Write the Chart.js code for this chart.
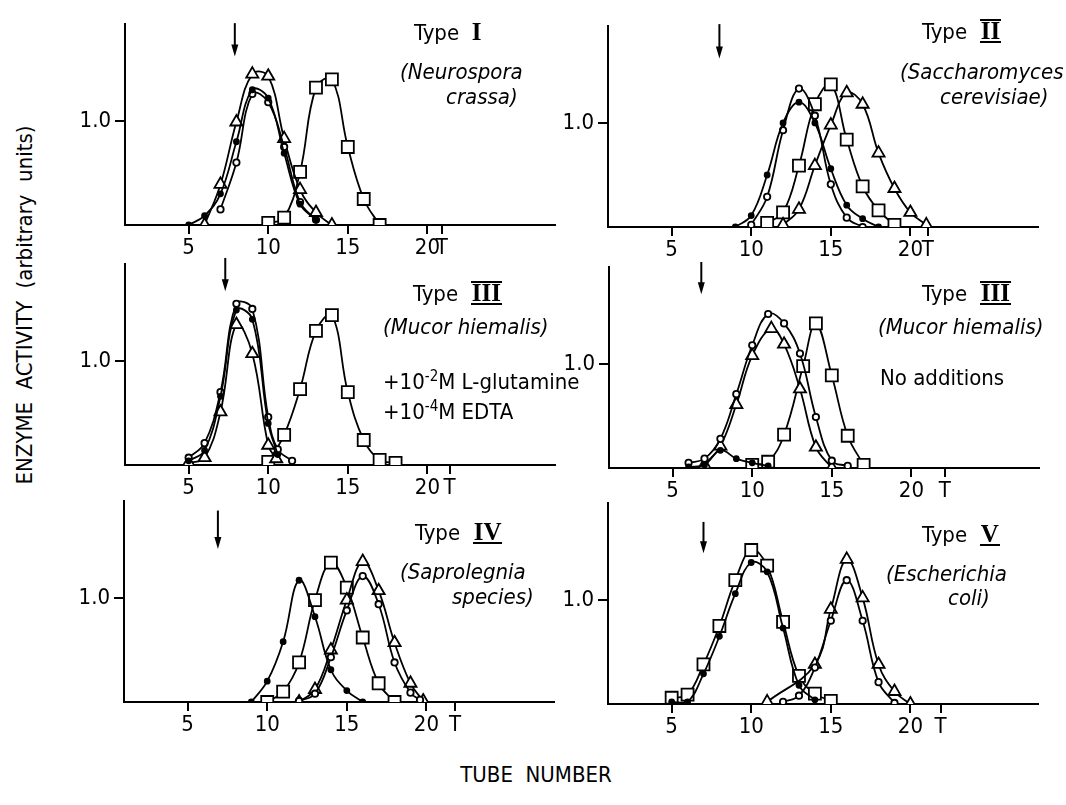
<!DOCTYPE html>
<html>
<head>
<meta charset="utf-8">
<script src="https://cdn.jsdelivr.net/npm/chart.js@4.4.0/dist/chart.umd.min.js"></script>
<style>
  body { margin: 0; background: #fff; }
  #page { position: relative; width: 1066px; height: 805px; overflow: hidden;
    font-family: 'DejaVu Sans Condensed', 'DejaVu Sans', sans-serif; color: #000; }
  .panel { position: absolute; width: 492px; height: 252px; }
  .lbl { position: absolute; font-size: 22px; white-space: nowrap; line-height: 1; }
  .it { font-style: italic; }
  .rn { font-family: 'Liberation Serif', serif; font-size: 25px; font-weight: bold; }
  .bars { border-top: 2px solid #000; border-bottom: 2px solid #000; padding: 0 1px; line-height: 0.78; display: inline-block; }
  .ul { border-bottom: 2px solid #000; line-height: 0.8; display: inline-block; padding: 0 1px; }
  sup { font-size: 15px; }
</style>
</head>
<body>
<div id="page">
  <div class="panel" style="left:73px;top:7px"><canvas id="c1"></canvas></div>
  <div class="panel" style="left:556px;top:9px"><canvas id="c2"></canvas></div>
  <div class="panel" style="left:73px;top:247px"><canvas id="c3"></canvas></div>
  <div class="panel" style="left:557px;top:250px"><canvas id="c4"></canvas></div>
  <div class="panel" style="left:72px;top:484px"><canvas id="c5"></canvas></div>
  <div class="panel" style="left:556px;top:486px"><canvas id="c6"></canvas></div>

  <div class="lbl" style="left:414px;top:19px">Type&nbsp;&nbsp;<span class="rn">I</span></div>
  <div class="lbl it" style="left:400px;top:61px">(Neurospora</div>
  <div class="lbl it" style="left:446px;top:86px">crassa)</div>

  <div class="lbl" style="left:922px;top:19px">Type&nbsp;&nbsp;<span class="rn bars">II</span></div>
  <div class="lbl it" style="left:900px;top:61px">(Saccharomyces</div>
  <div class="lbl it" style="left:940px;top:86px">cerevisiae)</div>

  <div class="lbl" style="left:413px;top:281px">Type&nbsp;&nbsp;<span class="rn bars">III</span></div>
  <div class="lbl it" style="left:383px;top:316px">(Mucor hiemalis)</div>
  <div class="lbl" style="left:383px;top:369px">+10<sup>-2</sup>M L-glutamine</div>
  <div class="lbl" style="left:383px;top:399px">+10<sup>-4</sup>M EDTA</div>

  <div class="lbl" style="left:922px;top:281px">Type&nbsp;&nbsp;<span class="rn bars">III</span></div>
  <div class="lbl it" style="left:878px;top:316px">(Mucor hiemalis)</div>
  <div class="lbl" style="left:880px;top:367px">No additions</div>

  <div class="lbl" style="left:415px;top:522px">Type&nbsp;&nbsp;<span class="rn ul">IV</span></div>
  <div class="lbl it" style="left:400px;top:561px">(Saprolegnia</div>
  <div class="lbl it" style="left:452px;top:586px">species)</div>

  <div class="lbl" style="left:922px;top:524px">Type&nbsp;&nbsp;<span class="rn ul">V</span></div>
  <div class="lbl it" style="left:886px;top:563px">(Escherichia</div>
  <div class="lbl it" style="left:948px;top:587px">coli)</div>

  <div class="lbl" style="left:25px;top:305px;transform:translate(-50%,-50%) rotate(-90deg)">ENZYME&nbsp;&nbsp;ACTIVITY&nbsp;&nbsp;(arbitrary&nbsp;&nbsp;units)</div>
  <div class="lbl" style="left:536px;top:775px;transform:translate(-50%,-50%)">TUBE&nbsp;&nbsp;NUMBER</div>
</div>
<script>
// tube number ticks and the extra "T" tick per panel
var xTicks = [5, 10, 15, 20];
var tTick = [20.9, 21.1, 21.4, 22.1, 21.8, 21.9];
var yTicks = [1];

// void volume arrows: tube, top and tip (activity units)
var arrowX = [7.9, 8.0, 7.3, 6.8, 6.9, 7.0];
var arrowTop = [1.94, 1.95, 1.99, 1.98, 1.84, 1.75];
var arrowTip = [1.62, 1.62, 1.67, 1.67, 1.47, 1.45];

// Type I, Neurospora crassa
var p1Dots = [[5,0],[6,0.09],[7,0.30],[8,0.80],[9,1.30],[10,1.22],[11,0.69],[12,0.2],[13,0.05]];
var p1Circles = [[7,0.15],[8,0.60],[9,1.26],[10,1.18],[11,0.75],[12,0.22],[13,0.05]];
var p1Triangles = [[6,0],[7,0.39],[8,0.99],[9,1.45],[10,1.43],[11,0.83],[12,0.34],[13,0.12],[14,0]];
var p1Squares = [[10,0.02],[11,0.07],[12,0.51],[13,1.32],[14,1.40],[15,0.75],[16,0.25],[17,0]];

// Type II, Saccharomyces cerevisiae
var p2Dots = [[9,0],[10,0.11],[11,0.5],[12,1.0],[13,1.2],[14,1.0],[15,0.56],[16,0.21],[17,0.08],[18,0]];
var p2Circles = [[10,0.02],[11,0.29],[12,0.93],[13,1.33],[14,1.07],[15,0.41],[16,0.09],[17,0]];
var p2Triangles = [[12,0.02],[13,0.17],[14,0.59],[15,0.98],[16,1.29],[17,1.18],[18,0.71],[19,0.37],[20,0.14],[21,0.02]];
var p2Squares = [[11,0.04],[12,0.14],[13,0.59],[14,1.18],[15,1.37],[16,0.84],[17,0.39],[18,0.16],[19,0.02]];

// Type III, Mucor hiemalis + glutamine + EDTA
var p3Dots = [[5,0.04],[6,0.14],[7,0.66],[8,1.49],[9,1.40],[10,0.40],[10.6,0.1]];
var p3Circles = [[5,0.07],[6,0.21],[7,0.70],[8,1.55],[9,1.50],[10,0.46],[10.6,0.15],[11.5,0.04]];
var p3Triangles = [[5,0.02],[6,0.07],[7,0.51],[8,1.35],[9,1.07],[10,0.19],[10.5,0.06]];
var p3Squares = [[10,0.03],[11,0.29],[12,0.73],[13,1.29],[14,1.44],[15,0.70],[16,0.24],[17,0.05],[18,0.02]];

// Type III, Mucor hiemalis, no additions
var p4Dots = [[6,0.01],[7,0.03],[8,0.17],[9,0.09],[10,0.05],[11,0.02]];
var p4Circles = [[6,0.05],[7,0.09],[8,0.28],[9,0.71],[10,1.18],[11,1.48],[12,1.39],[13,1.10],[14,0.49],[15,0.07],[16,0.02]];
var p4Triangles = [[7,0.03],[8,0.21],[9,0.61],[10,1.08],[11.2,1.34],[12,1.19],[13,0.76],[14,0.20],[15,0]];
var p4Squares = [[10,0.03],[11,0.06],[12,0.32],[13.2,0.98],[14,1.39],[15,0.89],[16,0.31],[17,0.03]];

// Type IV, Saprolegnia species
var p5Dots = [[9,0],[10,0.2],[11,0.58],[12,1.17],[13,0.82],[14,0.31],[15,0.11],[16,0]];
var p5Circles = [[12,0.01],[13,0.08],[14,0.43],[15,0.88],[16,1.21],[17,0.94],[18,0.38],[19,0.09],[19.6,0.02]];
var p5Triangles = [[12,0],[13,0.12],[14,0.5],[15,0.98],[16,1.35],[17,1.07],[18,0.57],[19,0.18],[19.8,0.01]];
var p5Squares = [[10,0],[11,0.1],[12,0.38],[13,0.98],[14,1.34],[15,1.1],[16,0.62],[17,0.18],[18,0]];

// Type V, Escherichia coli
var p6Dots = [[5,0.02],[6,0.02],[7,0.29],[8,0.65],[9,1.06],[10,1.36],[11,1.27],[12,0.73],[13,0.18],[14,0.04]];
var p6Circles = [[12,0.02],[13,0.08],[14,0.35],[15,0.8],[16,1.19],[17,0.8],[18,0.21],[19,0.01]];
var p6Triangles = [[11,0.02],[14,0.38],[15,0.91],[16,1.39],[17,1.02],[18,0.38],[19,0.12],[20,0]];
var p6Squares = [[5,0.06],[6,0.09],[7,0.38],[8,0.75],[9,1.19],[10,1.48],[11,1.33],[12,0.79],[13,0.27],[14,0.1],[15,0.03]];

var panels = [
  [p1Dots, p1Circles, p1Triangles, p1Squares],
  [p2Dots, p2Circles, p2Triangles, p2Squares],
  [p3Dots, p3Circles, p3Triangles, p3Squares],
  [p4Dots, p4Circles, p4Triangles, p4Squares],
  [p5Dots, p5Circles, p5Triangles, p5Squares],
  [p6Dots, p6Circles, p6Triangles, p6Squares]
];

var FONT = "'DejaVu Sans Condensed', 'DejaVu Sans', sans-serif";

var arrowPlugin = {
  id: 'voidArrow',
  afterDraw: function(chart, args, opts) {
    var ctx = chart.ctx;
    var px = chart.scales.x.getPixelForValue(opts.at);
    var top = chart.scales.y.getPixelForValue(opts.from);
    var tip = chart.scales.y.getPixelForValue(opts.to);
    ctx.save();
    ctx.strokeStyle = '#000';
    ctx.fillStyle = '#000';
    ctx.lineWidth = 2;
    ctx.beginPath();
    ctx.moveTo(px, top);
    ctx.lineTo(px, tip - 8);
    ctx.stroke();
    ctx.beginPath();
    ctx.moveTo(px - 3.5, tip - 12);
    ctx.lineTo(px + 3.5, tip - 12);
    ctx.lineTo(px, tip);
    ctx.closePath();
    ctx.fill();
    ctx.restore();
  }
};

function series(data, style) {
  var base = {
    data: data.map(function(d){ return {x: d[0], y: d[1]}; }),
    borderColor: '#000',
    borderWidth: 1.8,
    tension: 0.4,
    fill: false,
    pointBorderColor: '#000',
    pointBorderWidth: 1.8,
    pointBackgroundColor: '#fff'
  };
  if (style === 'dot') { base.pointStyle = 'circle'; base.pointRadius = 2.5; base.pointBackgroundColor = '#000'; }
  if (style === 'circle') { base.pointStyle = 'circle'; base.pointRadius = 3.2; }
  if (style === 'triangle') { base.pointStyle = 'triangle'; base.pointRadius = 7; }
  if (style === 'square') { base.pointStyle = 'rect'; base.pointRadius = 8.5; }
  return base;
}

panels.forEach(function(sets, i) {
  var tPos = tTick[i];
  new Chart(document.getElementById('c' + (i + 1)), {
    type: 'line',
    data: {
      datasets: [
        series(sets[0], 'dot'),
        series(sets[1], 'circle'),
        series(sets[2], 'triangle'),
        series(sets[3], 'square')
      ]
    },
    plugins: [arrowPlugin],
    options: {
      responsive: true,
      maintainAspectRatio: false,
      animation: false,
      layout: { padding: { top: 10, right: 8, left: 0, bottom: 0 } },
      plugins: {
        legend: { display: false },
        tooltip: { enabled: false },
        voidArrow: { at: arrowX[i], from: arrowTop[i], to: arrowTip[i] }
      },
      scales: {
        x: {
          type: 'linear',
          min: 1,
          max: 28,
          afterBuildTicks: function(s) {
            s.ticks = xTicks.concat([tPos]).map(function(v){ return {value: v}; });
          },
          afterFit: function(s) { s.height = 34; },
          ticks: {
            autoSkip: false,
            maxRotation: 0,
            color: '#000',
            padding: 1,
            font: { family: FONT, size: 22 },
            callback: function(v) { return v === tPos ? 'T' : String(v); }
          },
          grid: { drawOnChartArea: false, drawTicks: true, tickLength: 9, color: '#000', lineWidth: 2 },
          border: { display: true, color: '#000', width: 2 }
        },
        y: {
          min: 0,
          max: 1.93,
          afterBuildTicks: function(s) {
            s.ticks = yTicks.map(function(v){ return {value: v}; });
          },
          afterFit: function(s) { s.width = 52; },
          ticks: {
            color: '#000',
            padding: 4,
            font: { family: FONT, size: 22 },
            callback: function(v) { return v.toFixed(1); }
          },
          grid: { drawOnChartArea: false, drawTicks: true, tickLength: 10, color: '#000', lineWidth: 2 },
          border: { display: true, color: '#000', width: 2 }
        }
      }
    }
  });
});
</script>
</body>
</html>
